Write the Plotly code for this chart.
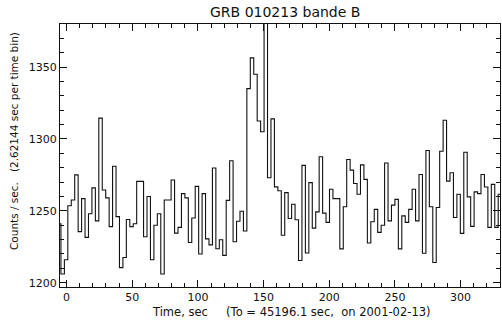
import numpy as np
import plotly.graph_objects as go

# Time bins (bin width given in the axis label)
BIN_WIDTH = 2.62144
T_FIRST = -5.6  # centre of first time bin (sec)

counts = [
    1241, 1206, 1216, 1253.5, 1257.5, 1275, 1235.5, 1258.5, 1231.5, 1248,
    1266, 1243, 1314.5, 1264.5, 1259, 1239, 1281, 1246, 1210.5, 1217.5,
    1244, 1239, 1241, 1270.5, 1270.5, 1232, 1260, 1216, 1240, 1248,
    1206, 1257.5, 1257.5, 1271.5, 1234.5, 1238.5, 1262, 1259, 1228, 1245,
    1267, 1220, 1262, 1230.5, 1226.3, 1279.8, 1223.6, 1229.9, 1219, 1257.3,
    1284.8, 1228.5, 1242.7, 1249.7, 1236, 1335, 1356.4, 1345, 1312.5, 1305,
    1385, 1273, 1314, 1266.7, 1264, 1233, 1262.7, 1244.7, 1254.6, 1243.8,
    1215.4, 1281.6, 1220.7, 1269.6, 1238, 1249.3, 1287.6, 1248.4, 1242, 1265,
    1258.5, 1258.5, 1223.5, 1252.8, 1285.7, 1278.3, 1269, 1261.5, 1282, 1271.9,
    1227.6, 1242.4, 1251, 1235, 1240, 1283.3, 1243, 1254, 1258, 1223.5,
    1246.5, 1242, 1251, 1265, 1243, 1275.3, 1220.5, 1292, 1252.8, 1214,
    1252.3, 1291.5, 1313, 1270.7, 1276.5, 1245.4, 1261.5, 1234.3, 1290.8, 1259.7,
    1239.2, 1263.2, 1262, 1275.3, 1266.6, 1238.5, 1268.4, 1238.5, 1261.5, 1286,
]
times = T_FIRST + BIN_WIDTH * np.arange(len(counts))

x_tickvals = [0, 50, 100, 150, 200, 250, 300]
y_tickvals = [1200, 1250, 1300, 1350]

title_text = "GRB 010213 bande B"
x_title = "Time, sec     (To = 45196.1 sec,  on 2001-02-13)"
y_title = "Counts / sec.   (2.62144 sec per time bin)"

FONT = "DejaVu Sans"
INK = "#111111"

fig = go.Figure()
fig.add_trace(go.Scatter(
    x=times, y=counts, mode="lines",
    line=dict(shape="hvh", color=INK, width=1.1),
    hoverinfo="skip", showlegend=False,
))

axis_common = dict(
    showline=True, linecolor=INK, linewidth=1, mirror="allticks",
    ticks="inside", ticklen=7, tickwidth=1, tickcolor=INK,
    showgrid=False, zeroline=False, automargin=False,
    tickfont=dict(family=FONT, size=11, color=INK),
)

fig.update_xaxes(
    range=[-5, 330], tickvals=x_tickvals,
    minor=dict(ticks="inside", ticklen=4, dtick=10, tick0=0, tickcolor=INK, showgrid=False),
    **axis_common,
)
fig.update_yaxes(
    range=[1197, 1380], tickvals=y_tickvals,
    minor=dict(ticks="inside", ticklen=4, dtick=10, tick0=1200, tickcolor=INK, showgrid=False),
    **axis_common,
)

fig.update_layout(
    width=502, height=327,
    margin=dict(l=60, r=2, t=24, b=40),
    paper_bgcolor="white", plot_bgcolor="white",
    font=dict(family=FONT, size=11, color=INK),
    annotations=[
        dict(text=title_text, xref="paper", yref="paper", x=0.511, y=1.0,
             yshift=2, xanchor="center", yanchor="bottom", showarrow=False,
             font=dict(family=FONT, size=14, color=INK)),
        dict(text=x_title, xref="paper", yref="paper", x=0.525, y=0,
             yshift=-16, xanchor="center", yanchor="top", showarrow=False,
             font=dict(family=FONT, size=11.5, color=INK)),
        dict(text=y_title, xref="paper", yref="paper", x=0, y=0.555,
             xshift=-38, xanchor="right", yanchor="middle", textangle=-90,
             showarrow=False, font=dict(family=FONT, size=10.5, color=INK)),
    ],
)

fig.write_html(
    "out.html",
    config={"displayModeBar": False},
    post_script="document.body.style.margin='0';document.body.style.overflow='hidden';",
)
